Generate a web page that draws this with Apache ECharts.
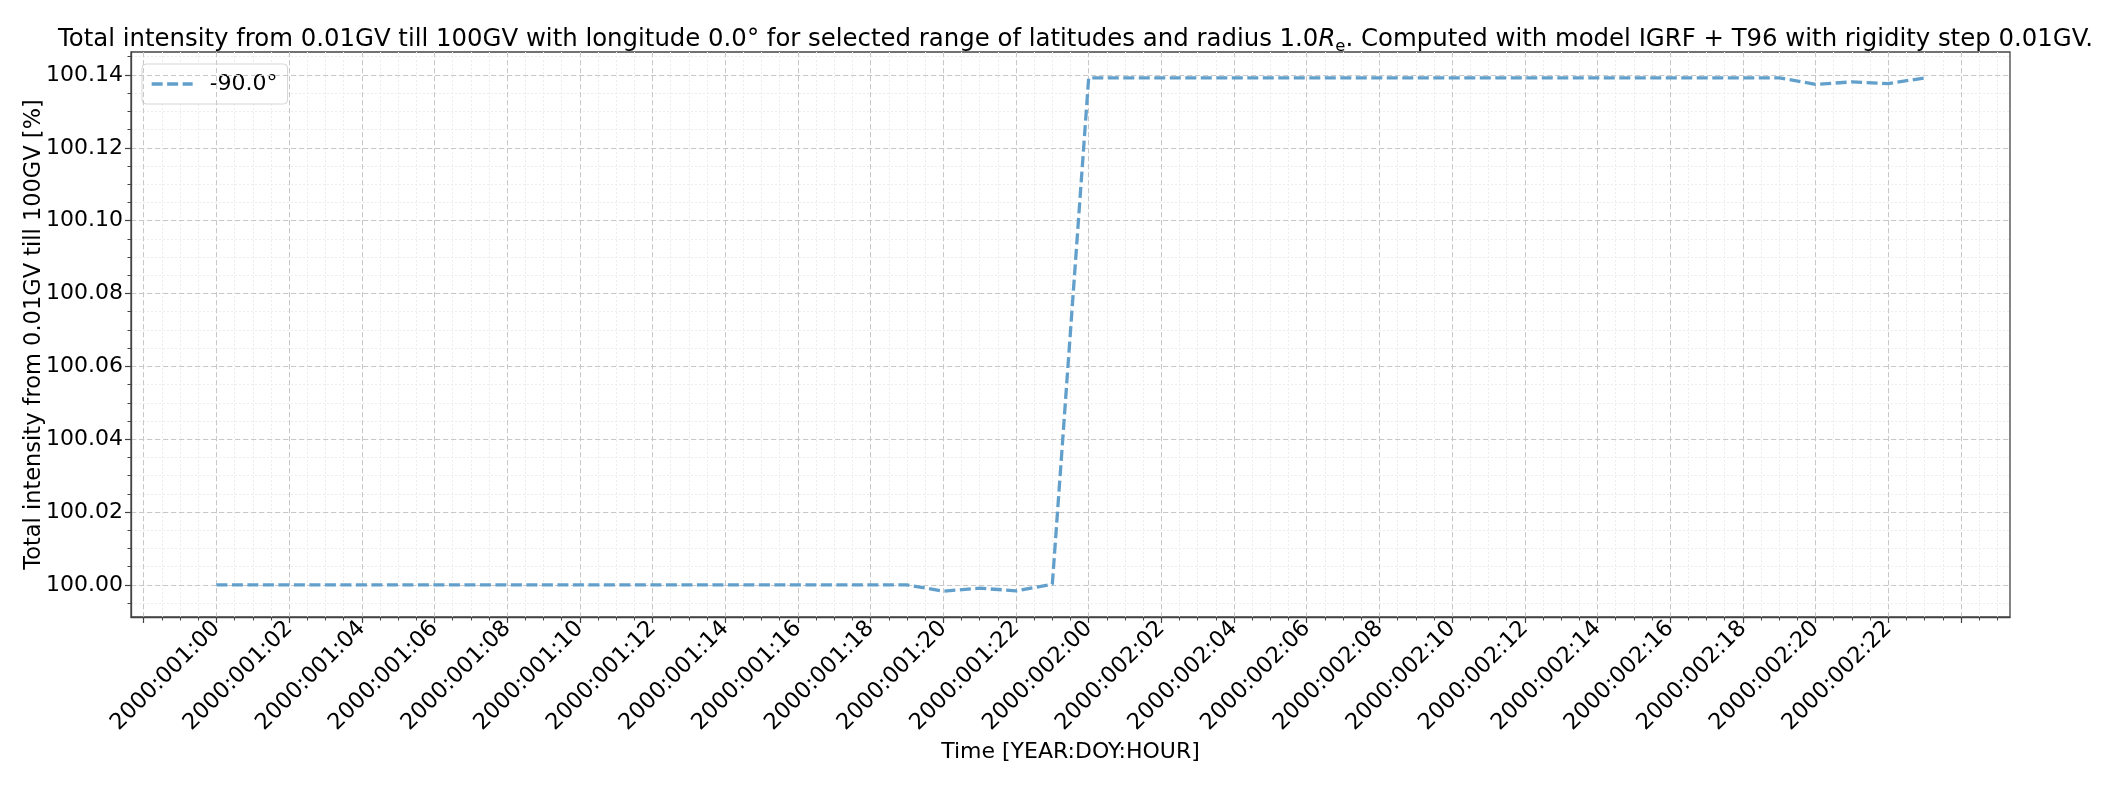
<!DOCTYPE html>
<html>
<head>
<meta charset="utf-8">
<script src="https://cdn.jsdelivr.net/npm/echarts@6/dist/echarts.min.js"></script>
<style>
html,body{margin:0;padding:0;background:#fff;}
#chart{width:2111px;height:785px;}
</style>
</head>
<body>
<div id="chart"></div>
<script>
// ---- data ----
const hours = [0,1,2,3,4,5,6,7,8,9,10,11,12,13,14,15,16,17,18,19,20,21,22,23,
               24,25,26,27,28,29,30,31,32,33,34,35,36,37,38,39,40,41,42,43,44,45,46,47];
const intensity = [100.0,100.0,100.0,100.0,100.0,100.0,100.0,100.0,100.0,100.0,
                   100.0,100.0,100.0,100.0,100.0,100.0,100.0,100.0,100.0,100.0,
                   99.9983,99.9991,99.9984,100.0002,
                   100.1392,100.1392,100.1392,100.1392,100.1392,100.1392,100.1392,100.1392,
                   100.1392,100.1392,100.1392,100.1392,100.1392,100.1392,100.1392,100.1392,
                   100.1392,100.1392,100.1392,100.1392,
                   100.1374,100.1381,100.1376,100.1392];
const seriesName = '-90.0°';
const xTickHours = [-2,0,2,4,6,8,10,12,14,16,18,20,22,24,26,28,30,32,34,36,38,40,42,44,46,48];
const xLabelHours = [0,2,4,6,8,10,12,14,16,18,20,22,24,26,28,30,32,34,36,38,40,42,44,46];
const xLabels = ['2000:001:00','2000:001:02','2000:001:04','2000:001:06','2000:001:08','2000:001:10',
                 '2000:001:12','2000:001:14','2000:001:16','2000:001:18','2000:001:20','2000:001:22',
                 '2000:002:00','2000:002:02','2000:002:04','2000:002:06','2000:002:08','2000:002:10',
                 '2000:002:12','2000:002:14','2000:002:16','2000:002:18','2000:002:20','2000:002:22'];
const xMinorHours = [-2,-1.5,-1,-0.5,0,0.5,1,1.5,2,2.5,3,3.5,4,4.5,5,5.5,6,6.5,7,7.5,8,8.5,9,9.5,10,10.5,11,11.5,
                     12,12.5,13,13.5,14,14.5,15,15.5,16,16.5,17,17.5,18,18.5,19,19.5,20,20.5,21,21.5,22,22.5,23,23.5,
                     24,24.5,25,25.5,26,26.5,27,27.5,28,28.5,29,29.5,30,30.5,31,31.5,32,32.5,33,33.5,34,34.5,35,35.5,
                     36,36.5,37,37.5,38,38.5,39,39.5,40,40.5,41,41.5,42,42.5,43,43.5,44,44.5,45,45.5,46,46.5,47,47.5,
                     48,48.5,49];
const yTicks = [100.00,100.02,100.04,100.06,100.08,100.10,100.12,100.14];
const yMinorTicks = [99.995,100.000,100.005,100.010,100.015,100.020,100.025,100.030,100.035,100.040,100.045,
                     100.050,100.055,100.060,100.065,100.070,100.075,100.080,100.085,100.090,100.095,100.100,
                     100.105,100.110,100.115,100.120,100.125,100.130,100.135,100.140,100.145];
const xMin = -2.35, xMax = 49.35;
const yMin = 99.9912, yMax = 100.1463;

const FONT = 'DejaVu Sans';
const labelMap = {};
xLabelHours.forEach((h, i) => { labelMap[h] = xLabels[i]; });

const chart = echarts.init(document.getElementById('chart'), null, {renderer: 'canvas'});
const axisColor = '#444';
const lineColor = '#62a0cb';
const option = {
  backgroundColor: '#ffffff',
  animation: false,
  textStyle: {fontFamily: FONT},
  title: {
    text: 'Total intensity from 0.01GV till 100GV with longitude 0.0° for selected range of latitudes and radius 1.0{it|R}{sub|e}. Computed with model IGRF + T96 with rigidity step 0.01GV.',
    left: 53, top: 20,
    textStyle: {
      fontFamily: FONT, fontSize: 24.4, fontWeight: 'normal', color: '#000',
      rich: {
        it: {fontFamily: FONT, fontSize: 24.4, fontStyle: 'italic', color: '#000', lineHeight: 30},
        sub: {fontFamily: FONT, fontSize: 16.5, color: '#000', verticalAlign: 'bottom', lineHeight: 30, padding: [12, 0, 0, 0]}
      }
    }
  },
  legend: {
    left: 142, top: 64,
    orient: 'vertical',
    itemWidth: 41, itemHeight: 14, itemGap: 8,
    padding: [9, 10, 9, 8],
    backgroundColor: '#ffffff',
    borderColor: '#d5d5d5', borderWidth: 1, borderRadius: 4,
    itemStyle: {opacity: 0},
    lineStyle: {width: 3.3, type: [11, 4.5], color: lineColor},
    textStyle: {fontFamily: FONT, fontSize: 22, color: '#000', padding: [0, 0, 0, 12]},
    data: [seriesName]
  },
  grid: {
    left: 131, top: 52, right: 101, bottom: 168,
    show: true, borderColor: axisColor, borderWidth: 1.3, backgroundColor: 'transparent',
    containLabel: false
  },
  xAxis: [{
    type: 'value', min: xMin, max: xMax,
    name: 'Time [YEAR:DOY:HOUR]', nameLocation: 'middle', nameGap: 124, nameMoveOverlap: false,
    nameTextStyle: {fontFamily: FONT, fontSize: 22, color: '#000'},
    axisLine: {show: true, onZero: false, lineStyle: {color: axisColor, width: 1.3}},
    axisTick: {show: true, length: 6, inside: false, customValues: xTickHours, lineStyle: {color: axisColor, width: 1.2}},
    axisLabel: {
      show: true, rotate: 45, margin: 8, customValues: xLabelHours,
      fontFamily: FONT, fontSize: 22.5, color: '#000',
      formatter: v => (labelMap[Math.round(v)] !== undefined ? labelMap[Math.round(v)] : '')
    },
    splitLine: {show: true, lineStyle: {color: '#c8c8c8', type: [5, 3], width: 1}},
    z: 5
  }, {
    type: 'value', min: xMin, max: xMax, position: 'bottom',
    axisLine: {show: false, onZero: false},
    axisTick: {show: true, length: 3.5, customValues: xMinorHours, lineStyle: {color: axisColor, width: 1}},
    axisLabel: {show: false, customValues: xMinorHours},
    splitLine: {show: true, lineStyle: {color: '#ededed', type: [2, 2], width: 1}},
    z: 1
  }],
  yAxis: [{
    type: 'value', min: yMin, max: yMax,
    name: 'Total intensity from 0.01GV till 100GV [%]', nameLocation: 'middle', nameGap: 85, nameMoveOverlap: false,
    nameTextStyle: {fontFamily: FONT, fontSize: 22.5, color: '#000'},
    axisLine: {show: true, onZero: false, lineStyle: {color: axisColor, width: 1.3}},
    axisTick: {show: true, length: 6, customValues: yTicks, lineStyle: {color: axisColor, width: 1.2}},
    axisLabel: {show: true, customValues: yTicks, margin: 8, fontFamily: FONT, fontSize: 22, color: '#000',
      formatter: v => v.toFixed(2)},
    splitLine: {show: true, lineStyle: {color: '#c8c8c8', type: [5, 3], width: 1}},
    z: 5
  }, {
    type: 'value', min: yMin, max: yMax, position: 'left',
    axisLine: {show: false, onZero: false},
    axisTick: {show: true, length: 3.5, customValues: yMinorTicks, lineStyle: {color: axisColor, width: 1}},
    axisLabel: {show: false, customValues: yMinorTicks},
    splitLine: {show: true, lineStyle: {color: '#ededed', type: [2, 2], width: 1}},
    z: 1
  }],
  series: [{
    name: seriesName,
    type: 'line',
    xAxisIndex: 0, yAxisIndex: 0,
    data: hours.map((h, i) => [h, intensity[i]]),
    showSymbol: false, symbol: 'none',
    lineStyle: {color: lineColor, width: 3.3, type: [11, 4.5]},
    itemStyle: {color: lineColor},
    z: 10
  }]
};
chart.setOption(option);
</script>
</body>
</html>
